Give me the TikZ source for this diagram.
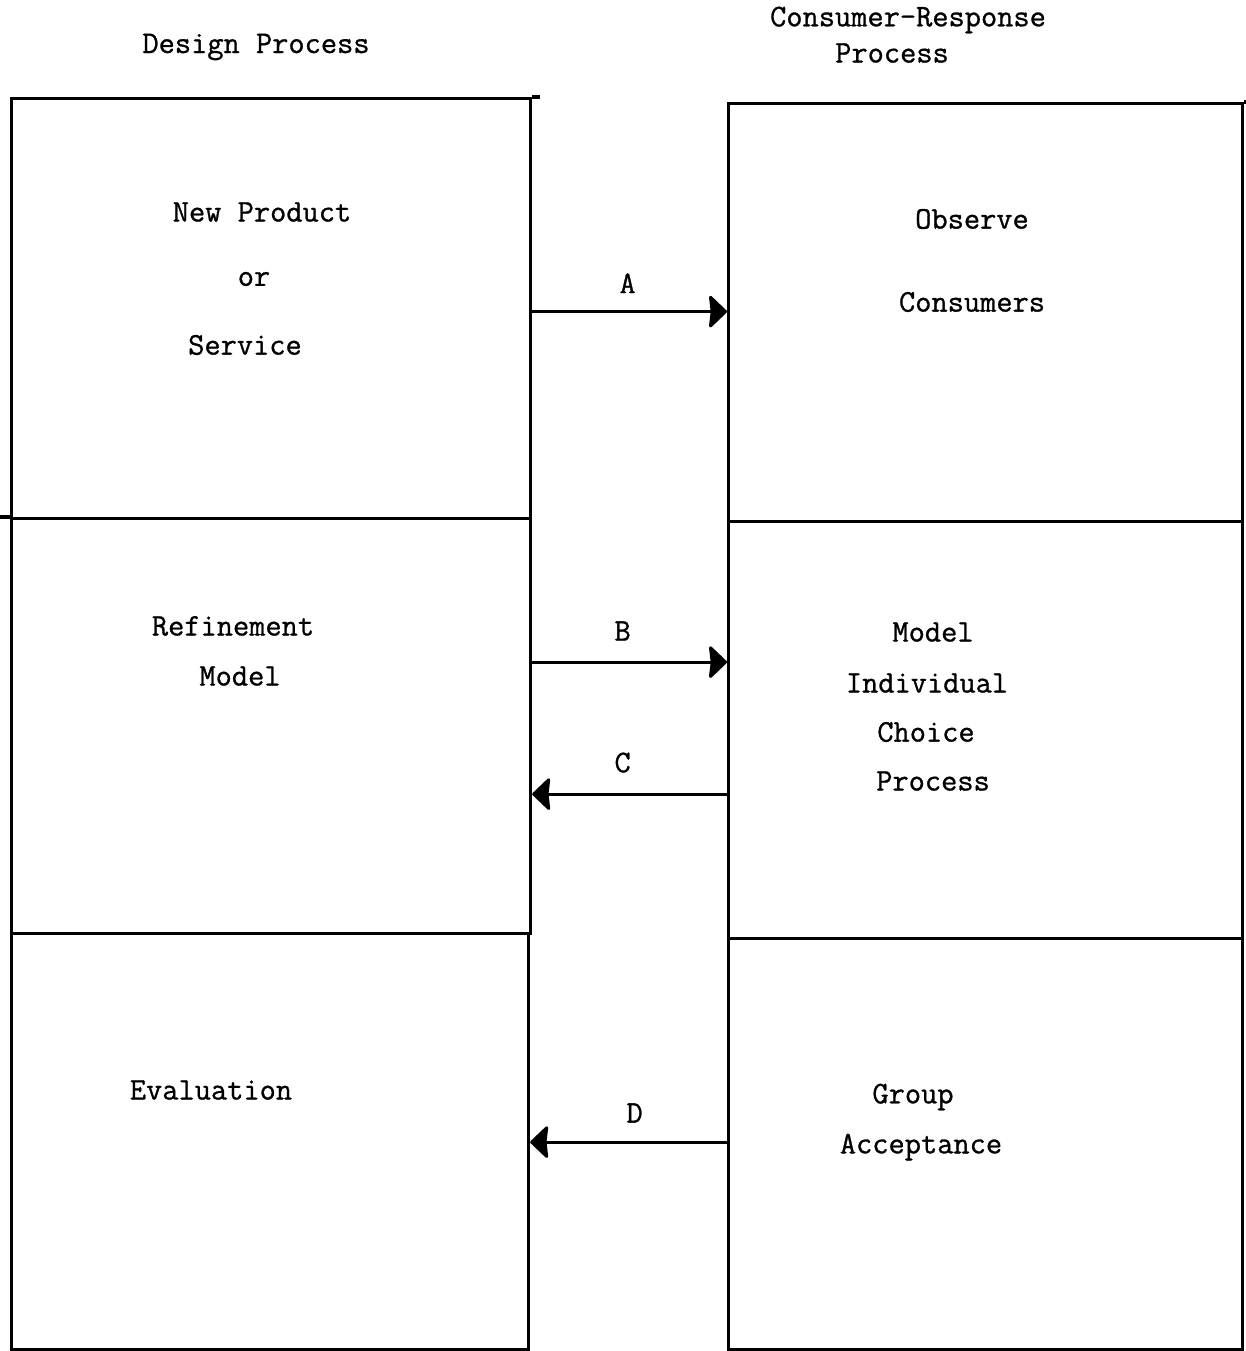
\documentclass[tikz,border=0pt]{standalone}
\usepackage{fontspec}
\newfontfamily\typewriter{Latin Modern Mono}[FakeBold=0.9]
\usetikzlibrary{arrows.meta,calc}
\begin{document}
\begin{tikzpicture}[x=1pt,y=-1pt,
  stage/.style={draw, line width=3.2pt, inner sep=0pt, anchor=north west},
  rule/.style={line width=3.2pt},
  label/.style={font=\typewriter\fontsize{31.5}{36}\selectfont, inner sep=0pt, align=center},
  flow/.style={line width=3pt, -{Stealth[length=19pt,width=36pt,inset=2pt,round]}}]
\useasboundingbox (0,0) rectangle (1245,1351);

% column headings
\node[label] (hdl) at (256,47) {Design Process};
\node[label] (hdr1) at (908,20) {Consumer-Response};
\node[label] (hdr2) at (892,53) {Process};

% design process column
\node[stage, minimum width=519pt, minimum height=420pt] (dp1) at (10,97) {};
\node[stage, minimum width=519pt, minimum height=415pt] (dp2) at (10,517) {};
\node[stage, minimum width=517pt, minimum height=416pt] (dp3) at (10,932) {};
\draw[rule] (dp1.north east) -- ++(8,0);
\draw[rule] (dp2.north west) -- ++(-10,0);

% consumer-response column
\node[stage, minimum width=514pt, minimum height=418pt] (cr1) at (727,102) {};
\node[stage, minimum width=514pt, minimum height=417pt] (cr2) at (727,520) {};
\node[stage, minimum width=514pt, minimum height=411pt] (cr3) at (727,937) {};
\draw[rule] (cr1.north east) -- ++(6,0);

% box texts
\node[label] (t1a) at (262,212) {New Product};
\node[label] (t1b) at (254,279) {or};
\node[label] (t1c) at (245,345) {Service};
\node[label] (t2a) at (233,626) {Refinement};
\node[label] (t2b) at (240,676) {Model};
\node[label] (t3) at (211,1090) {Evaluation};

\node[label] (r1a) at (972,219) {Observe};
\node[label] (r1b) at (972,302) {Consumers};
\node[label] (r2a) at (933,632) {Model};
\node[label] (r2b) at (927,683) {Individual};
\node[label] (r2c) at (926,732) {Choice};
\node[label] (r2d) at (933,781) {Process};
\node[label] (r3a) at (913,1097) {Group};
\node[label] (r3b) at (921,1147) {Acceptance};

% exchanges between the two processes (y grows downwards here)
\coordinate (aL) at ($(dp1.east)+(0,3)$);
\coordinate (bL) at ($(dp2.east)+(0,-64)$);
\coordinate (cR) at ($(cr2.west)+(0,64)$);
\coordinate (dR) at ($(cr3.west)+(0,-2)$);

\draw[flow] (aL) -- (aL -| cr1.west) node[label, midway, above=17pt, xshift=-2pt] (la) {A};
\draw[flow] (bL) -- (bL -| cr2.west) node[label, midway, above=20pt, xshift=-7pt] (lb) {B};
\draw[flow] (cR) -- (cR -| dp2.east) node[label, midway, above=20pt, xshift=-7pt] (lc) {C};
\draw[flow] (dR) -- (dR -| dp3.east) node[label, midway, above=18pt, xshift=6pt] (ld) {D};
\end{tikzpicture}
\end{document}
